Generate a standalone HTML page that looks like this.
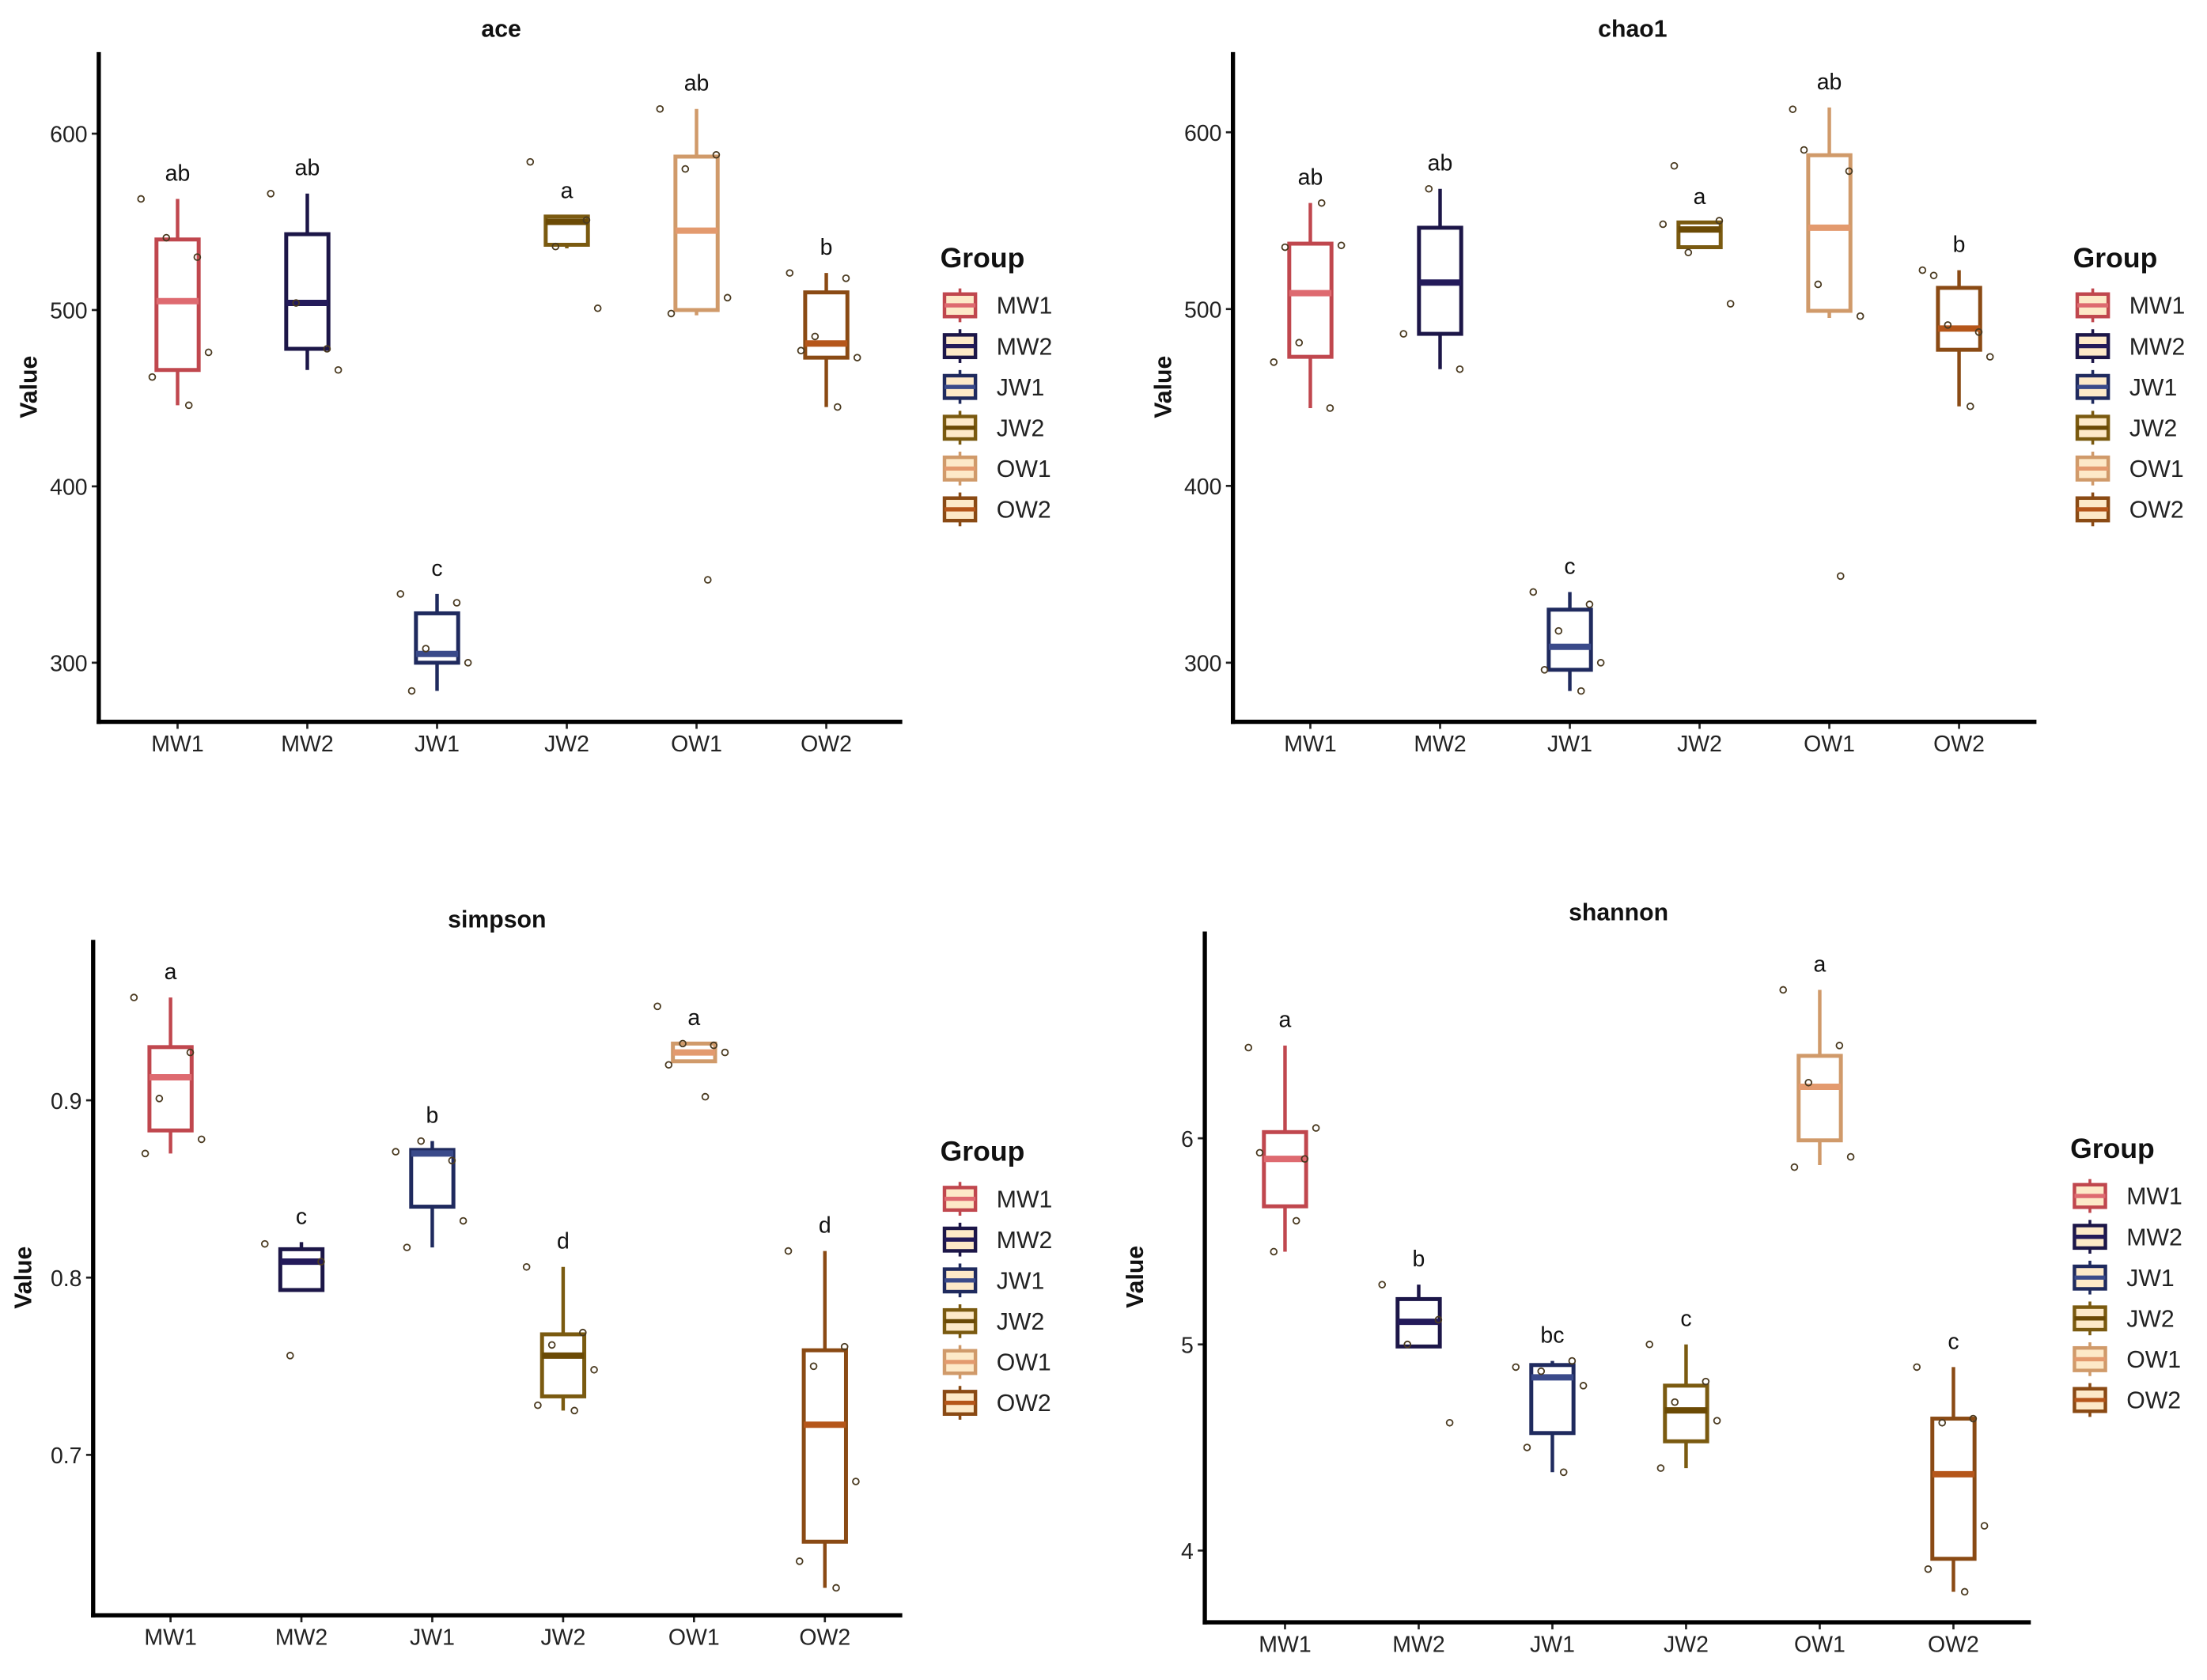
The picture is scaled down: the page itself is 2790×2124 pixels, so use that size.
<!DOCTYPE html>
<html><head><meta charset="utf-8"><style>
html,body{margin:0;padding:0;background:#fff}
svg{display:block}
text{font-family:"Liberation Sans",Arial,sans-serif}
</style></head><body>
<svg id="fig" width="2790" height="2124" viewBox="0 0 1568 1194" xmlns="http://www.w3.org/2000/svg">
<rect width="1568" height="1194" fill="#fff"/>
</svg>
<script>
const groups = ["MW1","MW2","JW1","JW2","OW1","OW2"];
const boxColors = ["#c0474e","#1c1648","#1f2a5e","#7a5a10","#d09a6a","#8a4a14"];
const medColors = ["#de6a70","#231a5a","#3a4a8a","#6b4a05","#e39a6e","#b5561a"];

// ace
const aceTicks = [300,400,500,600];
const aceBoxes = [[446,466,505,540,563],[466,478,504,543,566],[284,300,305,328,339],[535,537,550,553,553],[497,500,545,587,614],[445,473,481,510,521]];
const acePoints = [[563,530,541,476,462,446],[566,478,504,466],[339,334,308,300,284],[584,551,536,501],[614,588,580,507,498,347],[521,518,485,473,477,445]];
const aceLetters = ["ab","ab","c","a","ab","b"];
// chao1
const chaoTicks = [300,400,500,600];
const chaoBoxes = [[444,473,509,537,560],[466,486,515,546,568],[284,296,309,330,340],[535,535,545,549,549],[495,499,546,587,614],[445,477,489,512,522]];
const chaoPoints = [[470,444,481,536,535,560],[486,466,568],[340,333,318,300,296,284],[548,550,532,503,581],[613,578,514,496,590,349],[522,487,491,473,519,445]];
const chaoLetters = ["ab","ab","c","a","ab","b"];
// simpson
const simTicks = [0.7,0.8,0.9];
const simTickLabels = ["0.7","0.8","0.9"];
const simBoxes = [[0.870,0.883,0.913,0.930,0.958],[0.793,0.793,0.809,0.816,0.820],[0.817,0.840,0.870,0.872,0.877],[0.725,0.733,0.756,0.768,0.806],[0.922,0.922,0.927,0.932,0.932],[0.625,0.651,0.717,0.759,0.815]];
const simPoints = [[0.958,0.927,0.901,0.878,0.870],[0.819,0.809,0.756],[0.871,0.866,0.877,0.832,0.817],[0.806,0.769,0.762,0.748,0.728,0.725],[0.953,0.931,0.932,0.927,0.920,0.902],[0.815,0.761,0.750,0.685,0.640,0.625]];
const simLetters = ["a","c","b","d","a","d"];
// shannon
const shaTicks = [4,5,6];
const shaBoxes = [[5.45,5.67,5.90,6.03,6.45],[4.99,4.99,5.11,5.22,5.29],[4.38,4.57,4.84,4.90,4.92],[4.40,4.53,4.68,4.80,5.00],[5.87,5.99,6.25,6.40,6.72],[3.80,3.96,4.37,4.64,4.89]];
const shaPoints = [[6.44,5.90,5.45,6.05,5.93,5.60],[5.29,5.12,5.00,4.62],[4.89,4.92,4.87,4.80,4.50,4.38],[5.00,4.82,4.72,4.63,4.40],[6.72,6.45,6.27,5.91,5.86],[4.89,4.64,4.62,4.12,3.91,3.80]];
const shaLetters = ["a","b","bc","c","a","c"];

const NS="http://www.w3.org/2000/svg";
const svg=document.getElementById('fig');
function mk(tag,attrs,parent,txt){const e=document.createElementNS(NS,tag);for(const k in attrs)e.setAttribute(k,attrs[k]);if(txt!==undefined)e.textContent=txt;(parent||svg).appendChild(e);return e;}
const jit=[-26,14,-8,22,-18,8,28,-14];

function panel(p){
  const g=mk('g',{});
  
  
  const y=v=>p.y0px+(v-p.y0)*(p.y1px-p.y0px)/(p.y1-p.y0);
  const x=i=>p.xs+i*p.dx;
  const t=mk('text',{x:p.tx,y:p.ty,'text-anchor':'middle','font-size':17,'font-weight':'bold',fill:'#111'},g,p.name);
  
  
  const yl=mk('text',{x:0,y:0,transform:`translate(${p.ax-44},${(p.top+p.bot)/2}) rotate(-90)`,'text-anchor':'middle','font-size':17,'font-weight':'bold',fill:'#111'},g,'Value');
  
  
  p.ticks.forEach((tv,i)=>{
    mk('line',{x1:p.ax-5,x2:p.ax,y1:y(tv),y2:y(tv),stroke:'#222','stroke-width':1.5},g);
    const tl=mk('text',{x:p.ax-8,y:y(tv)+6,'text-anchor':'end','font-size':16,fill:'#222'},g,p.labels?p.labels[i]:String(tv));
    
    
  });
  groups.forEach((gn,i)=>{
    mk('line',{x1:x(i),x2:x(i),y1:p.bot,y2:p.bot+5,stroke:'#222','stroke-width':1.5},g);
    const xl=mk('text',{x:x(i),y:p.bot+21,'text-anchor':'middle','font-size':16,fill:'#222'},g,gn);
    
    
    const b=p.boxes[i],c=boxColors[i],w=15;
    const bg=mk('g',{},g);
    
    
    mk('line',{x1:x(i),x2:x(i),y1:y(b[4]),y2:y(b[0]),stroke:c,'stroke-width':2.5},bg);
    mk('rect',{x:x(i)-w,y:y(b[3]),width:2*w,height:Math.max(1,y(b[1])-y(b[3])),fill:'#fff',stroke:c,'stroke-width':2.8},bg);
    mk('line',{x1:x(i)-w,x2:x(i)+w,y1:y(b[2]),y2:y(b[2]),stroke:medColors[i],'stroke-width':4.5},bg);
    p.points[i].forEach((v,j)=>{
      const pt=mk('circle',{cx:x(i)+jit[j%jit.length],cy:y(v),r:2.2,fill:'none',stroke:'#4a3a20','stroke-width':1},bg);
      
      
    });
    const lt=mk('text',{x:x(i),y:y(b[4])-13,'text-anchor':'middle','font-size':16,fill:'#111'},g,p.letters[i]);
    
    
  });
  mk('line',{x1:p.ax,x2:p.ax,y1:p.top,y2:p.bot+1.5,stroke:'#000','stroke-width':3},g);
  mk('line',{x1:p.ax-1.5,x2:p.right,y1:p.bot,y2:p.bot,stroke:'#000','stroke-width':3},g);
  const lg=mk('g',{},g);
  
  
  mk('text',{x:p.lx-2,y:p.ly,'font-size':20,'font-weight':'bold',fill:'#111'},lg,'Group');
  groups.forEach((gn,i)=>{
    const ey=p.ly+27+i*29;
    const le=mk('g',{},lg);
    
    
    mk('line',{x1:p.lx+12,x2:p.lx+12,y1:ey-12,y2:ey+12,stroke:boxColors[i],'stroke-width':2},le);
    mk('rect',{x:p.lx+1,y:ey-8,width:22,height:16,fill:'#fde9c8',stroke:boxColors[i],'stroke-width':2.5},le);
    mk('line',{x1:p.lx+1,x2:p.lx+23,y1:ey,y2:ey,stroke:medColors[i],'stroke-width':3},le);
    mk('text',{x:p.lx+38,y:ey+6,'font-size':17,fill:'#222'},le,gn);
  });
}
panel({name:'ace',ticks:aceTicks,boxes:aceBoxes,points:acePoints,letters:aceLetters,y0:300,y1:600,y0px:471,y1px:95,ax:70,top:37,bot:513,right:641,xs:126,dx:92.2,tx:356,ty:26,lx:670,ly:190});
panel({name:'chao1',ticks:chaoTicks,boxes:chaoBoxes,points:chaoPoints,letters:chaoLetters,y0:300,y1:600,y0px:471,y1px:94,ax:876,top:37,bot:513,right:1447,xs:931,dx:92.2,tx:1160,ty:26,lx:1475,ly:190});
panel({name:'simpson',ticks:simTicks,labels:simTickLabels,boxes:simBoxes,points:simPoints,letters:simLetters,y0:0.7,y1:0.9,y0px:1034,y1px:782,ax:66,top:668,bot:1148,right:641,xs:121,dx:93,tx:353,ty:659,lx:670,ly:825});
panel({name:'shannon',ticks:shaTicks,boxes:shaBoxes,points:shaPoints,letters:shaLetters,y0:4,y1:6,y0px:1102,y1px:809,ax:856,top:662,bot:1153,right:1443,xs:913,dx:95,tx:1150,ty:654,lx:1473,ly:823});
</script>
</body></html>
